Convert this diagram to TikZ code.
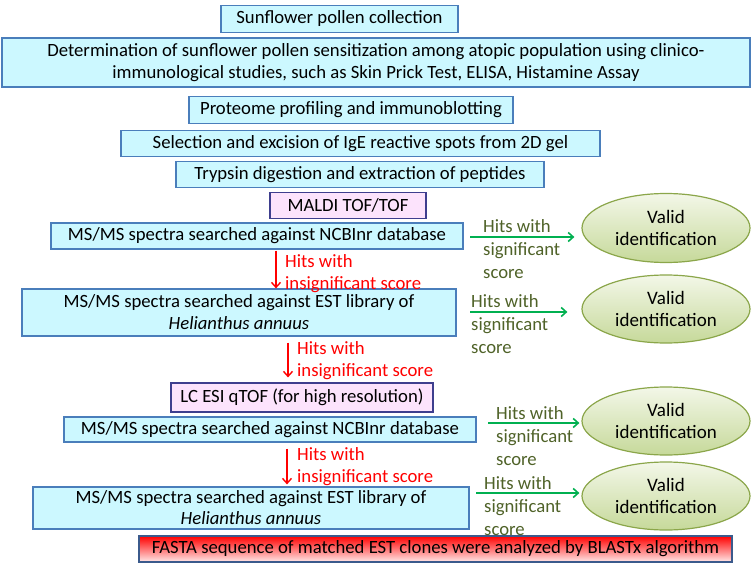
\documentclass[tikz,border=0pt]{standalone}
\usepackage{fontspec}
\setmainfont{Carlito}
\usetikzlibrary{arrows.meta,shapes.geometric}
\definecolor{boxfill}{HTML}{CCF8FF}
\definecolor{boxline}{HTML}{4A7EBB}
\definecolor{pinkfill}{HTML}{FCE3FC}
\definecolor{pinkline}{HTML}{3E3E8E}
\definecolor{olivetext}{HTML}{4F6228}
\definecolor{garrowc}{HTML}{00B050}
\definecolor{ellline}{HTML}{8BA64A}
\definecolor{elltop}{HTML}{F3F7E8}
\definecolor{ellbot}{HTML}{C6D99A}
\definecolor{fastaline}{HTML}{3B5A8C}
\tikzset{
  x=1pt,y=-1pt,
  txt/.style={font=\fontsize{18.7}{22}\selectfont},
  stepbox/.style={txt,draw=boxline,fill=boxfill,line width=1.2pt,inner sep=0pt,align=center},
  pinkbox/.style={txt,draw=pinkline,fill=pinkfill,line width=1.2pt,inner sep=0pt,align=center},
  validell/.style={ellipse,draw=ellline,line width=1.2pt,top color=elltop,bottom color=ellbot,inner sep=0pt,align=center,font=\fontsize{19}{22}\selectfont},
  glabel/.style={anchor=north west,inner sep=0pt,align=left,text=olivetext,font=\fontsize{18.7}{23}\selectfont},
  rlabel/.style={anchor=north west,inner sep=0pt,align=left,text=red,font=\fontsize{18.7}{22}\selectfont},
  garrow/.style={draw=garrowc,line width=1.6pt,-{Straight Barb[length=5pt,width=9pt]}},
  rarrow/.style={draw=red,line width=1.4pt,-{Straight Barb[length=5pt,width=9pt]}}
}
\begin{document}
\begin{tikzpicture}
\useasboundingbox (0,0) rectangle (752,564);
\node[stepbox,minimum width=237,minimum height=27] (b1) at (339.5,19) {Sunflower pollen collection};
\node[stepbox,minimum width=748,minimum height=49] (b2) at (376,62.5) {Determination of sunflower pollen sensitization among atopic population using clinico-\\immunological studies, such as Skin Prick Test, ELISA, Histamine Assay};
\node[stepbox,minimum width=324,minimum height=27] (b3) at (351,110) {Proteome profiling and immunoblotting};
\node[stepbox,minimum width=479,minimum height=26] (b4) at (360.5,143.5) {Selection and excision of IgE reactive spots from 2D gel};
\node[stepbox,minimum width=368,minimum height=26] (b5) at (360,174.5) {Trypsin digestion and extraction of peptides};
\node[pinkbox,minimum width=156,minimum height=26] (b6) at (348,205.5) {MALDI TOF/TOF};
\node[stepbox,minimum width=412,minimum height=26] (b7) at (257,236) {MS/MS spectra searched against NCBInr database};
\node[stepbox,minimum width=434,minimum height=47] (b8) at (239,312.5) {MS/MS spectra searched against EST library of\\\textit{Helianthus annuus}};
\node[pinkbox,minimum width=262,minimum height=29] (b9) at (302,397.5) {LC ESI qTOF (for high resolution)};
\node[stepbox,minimum width=412,minimum height=25] (b10) at (270,429.5) {MS/MS spectra searched against NCBInr database};
\node[stepbox,minimum width=436,minimum height=42,font=\fontsize{18.7}{21}\selectfont] (b11) at (251,508) {MS/MS spectra searched against EST library of\\\textit{Helianthus annuus}};
\node[txt,draw=fastaline,line width=1.2pt,top color=red,bottom color=red!8,inner sep=0pt,minimum width=593,minimum height=26] (b12) at (435.5,549) {FASTA sequence of matched EST clones were analyzed by BLASTx algorithm};

\node[validell,minimum width=168,minimum height=69] (e1) at (666,228) {Valid\\identification};
\node[validell,minimum width=168,minimum height=68] (e2) at (666,309) {Valid\\identification};
\node[validell,minimum width=168,minimum height=68] (e3) at (666,421) {Valid\\identification};
\node[validell,minimum width=168,minimum height=68] (e4) at (666,496) {Valid\\identification};

% green arrows and labels
\coordinate (ga1) at (470,237);
\coordinate (ga2) at (470,312);
\coordinate (ga3) at (488,423);
\coordinate (ga4) at (476,493);
\draw[garrow,shorten >=7pt] (ga1) -- (ga1 -| e1.west);
\draw[garrow,shorten >=14pt] (ga2) -- (ga2 -| e2.west);
\draw[garrow,shorten >=2pt] (ga3) -- (ga3 -| e3.west);
\draw[garrow,shorten >=2pt] (ga4) -- (ga4 -| e4.west);
\node[glabel] (g1) at (483,219) {Hits with\\significant\\score};
\node[glabel] (g2) at (471,294) {Hits with\\significant\\score};
\node[glabel] (g3) at (496,406) {Hits with\\significant\\score};
\node[glabel] (g4) at (484,476) {Hits with\\significant\\score};

% red arrows and labels
\coordinate (r1) at (276,0);
\coordinate (r2) at (288,0);
\coordinate (r3) at (287,0);
\draw[rarrow,shorten <=1pt] (b7.south -| r1) -- (b8.north -| r1);
\draw[rarrow,shorten <=6pt,shorten >=5pt] (b8.south -| r2) -- (b9.north -| r2);
\draw[rarrow,shorten <=6pt,shorten >=2pt] (b10.south -| r3) -- (b11.north -| r3);
\node[rlabel] (l1) at (285,254) {Hits with\\insignificant score};
\node[rlabel] (l2) at (297,341) {Hits with\\insignificant score};
\node[rlabel] (l3) at (297,447) {Hits with\\insignificant score};
\end{tikzpicture}
\end{document}
